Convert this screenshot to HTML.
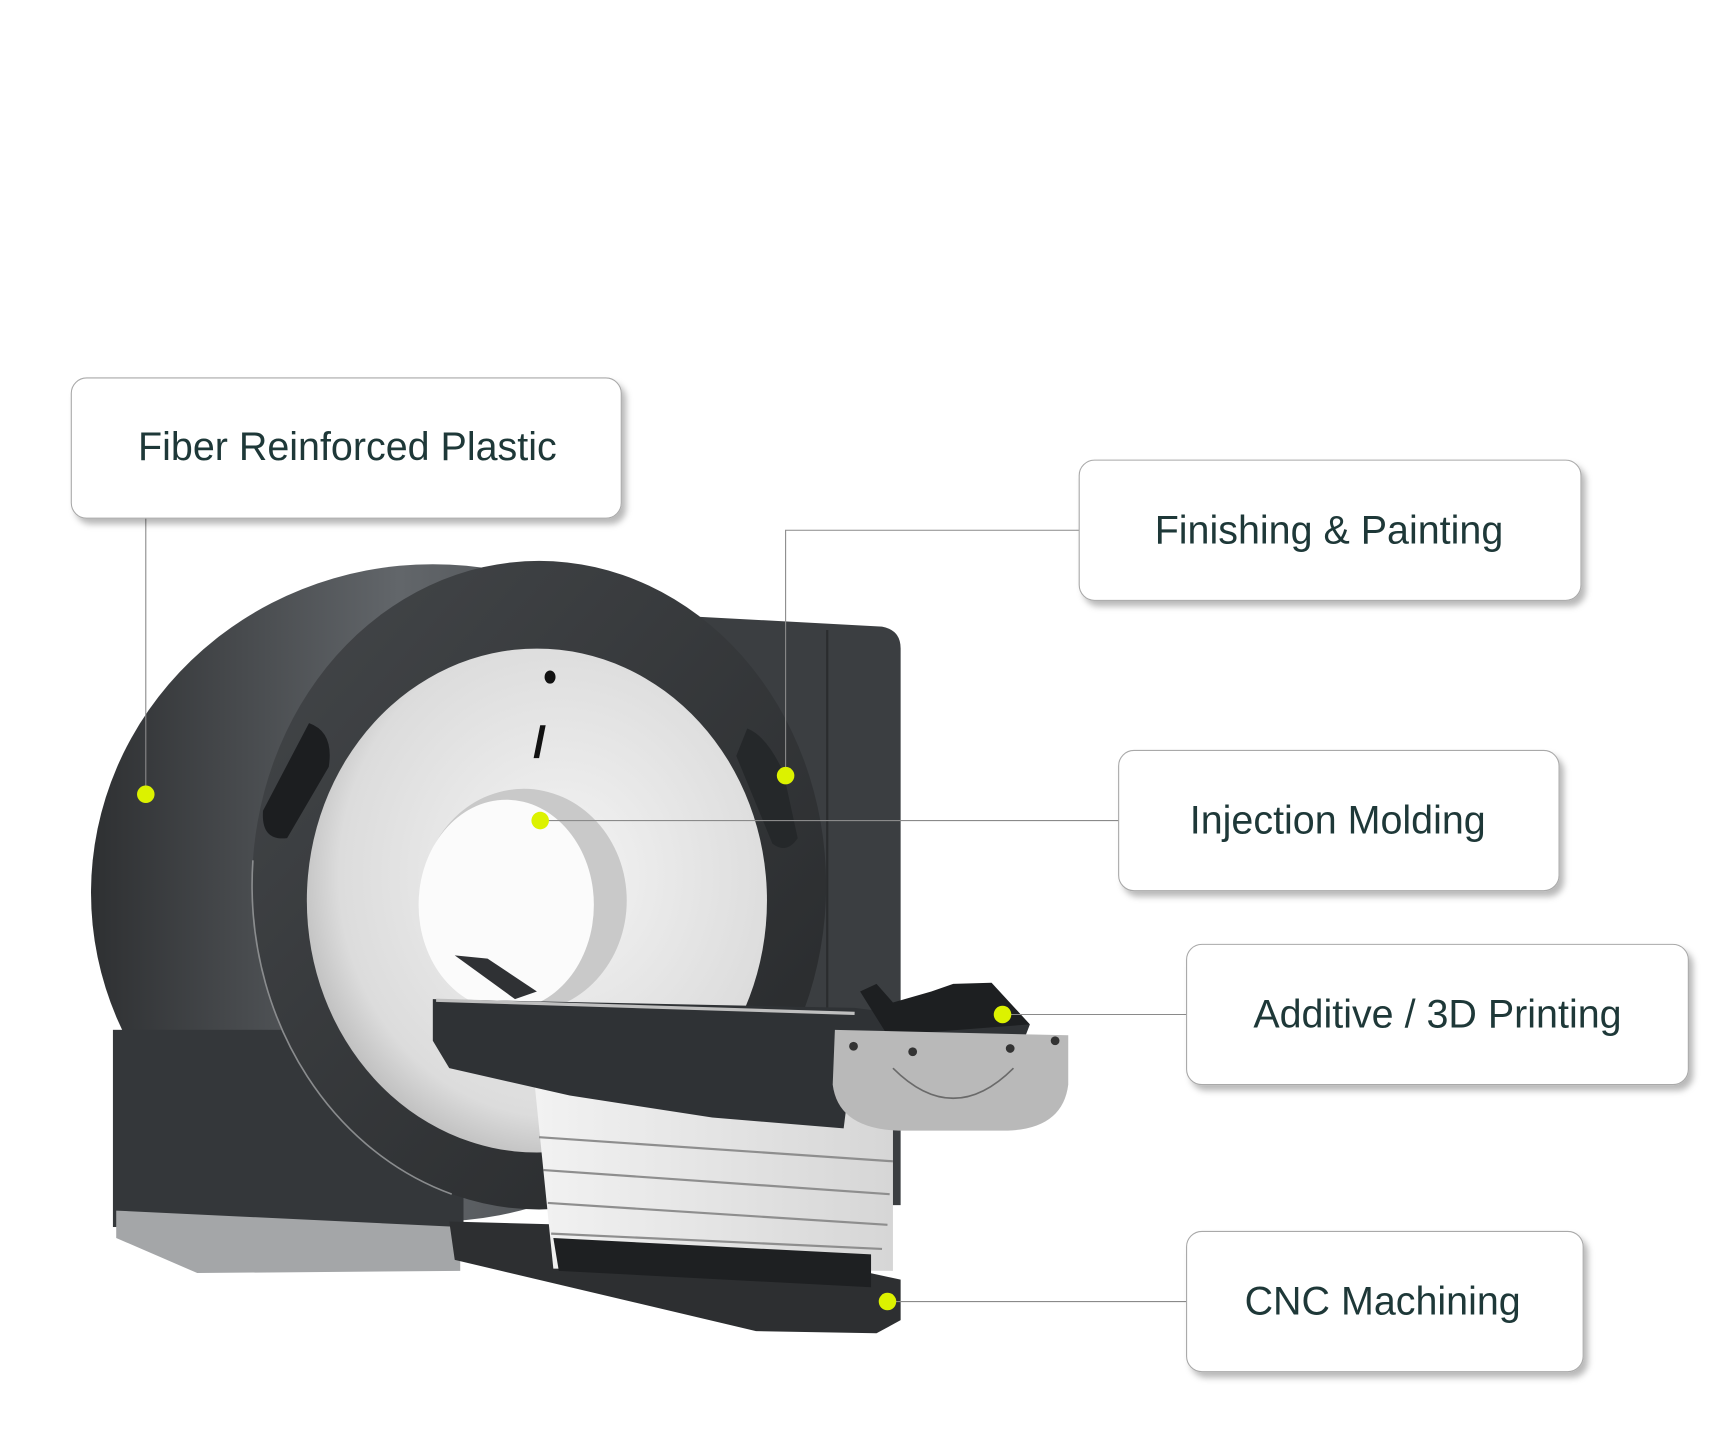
<!DOCTYPE html>
<html><head><meta charset="utf-8"><style>
html,body{margin:0;padding:0;background:#fff;}
svg{display:block;}
text{font-family:"Liberation Sans",sans-serif;fill:#1e3838;}
</style></head><body>
<svg width="1718" height="1456" viewBox="0 0 1568 1329" xmlns="http://www.w3.org/2000/svg">
<defs>
<filter id="sh" x="-10%" y="-10%" width="130%" height="140%"><feDropShadow dx="4" dy="5" stdDeviation="3" flood-color="#000" flood-opacity="0.28"/></filter>
<linearGradient id="side" x1="0" x2="1"><stop offset="0" stop-color="#2e3032"/><stop offset="0.45" stop-color="#62666a"/><stop offset="1" stop-color="#3a3c3f"/></linearGradient>
<linearGradient id="face" x1="0" y1="0" x2="1" y2="1"><stop offset="0" stop-color="#44474a"/><stop offset="1" stop-color="#26282a"/></linearGradient>
<radialGradient id="ring" cx="0.55" cy="0.45" r="0.6"><stop offset="0" stop-color="#f4f4f4"/><stop offset="0.8" stop-color="#dcdcdc"/><stop offset="1" stop-color="#b8b8b8"/></radialGradient>
<linearGradient id="stack" x1="0" x2="1"><stop offset="0" stop-color="#f2f2f2"/><stop offset="1" stop-color="#d6d6d6"/></linearGradient>
</defs>

<path d="M620 562 L805 572 Q822 575 822 592 L822 1100 L620 1100 Z" fill="#3b3e41"/>
<line x1="755" y1="575" x2="755" y2="1090" stroke="#2a2c2e" stroke-width="2"/>
<ellipse cx="395" cy="815" rx="312" ry="300" fill="url(#side)"/>
<rect x="103" y="940" width="320" height="180" fill="#34373a"/>
<path d="M106 1105 L420 1120 L420 1160 L180 1162 L106 1130 Z" fill="#a4a6a8"/>
<path d="M410 1115 L600 1120 L822 1168 L822 1205 L800 1217 L690 1215 L415 1150 Z" fill="#2d2f31"/>
<ellipse cx="492" cy="808" rx="262" ry="296" fill="url(#face)"/>
<ellipse cx="492" cy="808" rx="262" ry="296" fill="none" stroke="#8a8c8e" stroke-width="1.5" stroke-dasharray="380 2000" stroke-dashoffset="-520"/>
<ellipse cx="490" cy="822" rx="210" ry="230" fill="url(#ring)"/>
<ellipse cx="478" cy="822" rx="94" ry="102" fill="#c9c9c9"/>
<ellipse cx="462" cy="826" rx="80" ry="96" fill="#fbfbfb"/>
<ellipse cx="502" cy="618" rx="5" ry="6" fill="#111"/>
<path d="M493 662 L498 662 L492 692 L487 692 Z" fill="#111"/>
<path d="M282 660 Q305 668 300 700 L262 765 Q238 768 240 740 Z" fill="#1c1e20"/>
<path d="M682 665 Q700 672 715 705 L728 765 Q718 780 705 770 L672 690 Z" fill="#25282a"/>
<path d="M488 990 L815 1010 L815 1160 L505 1158 Z" fill="url(#stack)"/>
<g stroke="#8e8e8e" stroke-width="2" fill="none">
<path d="M492 1038 L815 1060"/><path d="M496 1068 L812 1090"/><path d="M500 1098 L810 1118"/><path d="M503 1126 L805 1140"/>
</g>
<path d="M505 1130 L795 1145 L795 1175 L510 1160 Z" fill="#1e2022"/>
<path d="M415 872 L445 875 L490 905 L470 912 Z" fill="#2f3134"/>
<path d="M395 912 L780 920 L860 930 L940 935 L935 948 L780 950 L770 1030 L650 1020 L520 1000 L410 975 L395 950 Z" fill="#2f3235"/>
<path d="M398 913 L780 925" stroke="#bfbfbf" stroke-width="3"/>
<path d="M785 905 L800 898 L815 915 L850 905 L870 898 L905 897 L940 935 L810 945 Z" fill="#1d1f21"/>
<path d="M762 940 L975 945 L975 990 Q970 1030 920 1032 L820 1032 Q765 1030 760 990 Z" fill="#b9b9b9"/>
<path d="M815 975 Q870 1030 925 975" stroke="#6a6a6a" stroke-width="1.5" fill="none"/>
<circle cx="779" cy="955" r="4" fill="#333"/><circle cx="833" cy="960" r="4" fill="#333"/><circle cx="922" cy="957" r="4" fill="#333"/><circle cx="963" cy="950" r="4" fill="#333"/>
<g stroke="#8a8a8a" stroke-width="1" fill="none">
<path d="M133 473 V725"/>
<path d="M985 484 H717 V708"/>
<path d="M1021 749 H493"/>
<path d="M1083 926 H915"/>
<path d="M1083 1188 H810"/>
</g>
<g fill="#dcf200">
<circle cx="133" cy="725" r="8"/><circle cx="717" cy="708" r="8"/><circle cx="493" cy="749" r="8"/><circle cx="915" cy="926" r="8"/><circle cx="810" cy="1188" r="8"/>
</g>
<g fill="#fff" stroke="#a9a9a9" stroke-width="1" filter="url(#sh)">
<rect x="65" y="345" width="502" height="128" rx="14"/>
<rect x="985" y="420" width="458" height="128" rx="14"/>
<rect x="1021" y="685" width="402" height="128" rx="14"/>
<rect x="1083" y="862" width="458" height="128" rx="14"/>
<rect x="1083" y="1124" width="362" height="128" rx="14"/>
</g>
<g font-size="36" text-anchor="middle">
<text x="317" y="420">Fiber Reinforced Plastic</text>
<text x="1213" y="496">Finishing &amp; Painting</text>
<text x="1221" y="761">Injection Molding</text>
<text x="1312" y="938">Additive / 3D Printing</text>
<text x="1262" y="1200">CNC Machining</text>
</g>
</svg>
</body></html>
